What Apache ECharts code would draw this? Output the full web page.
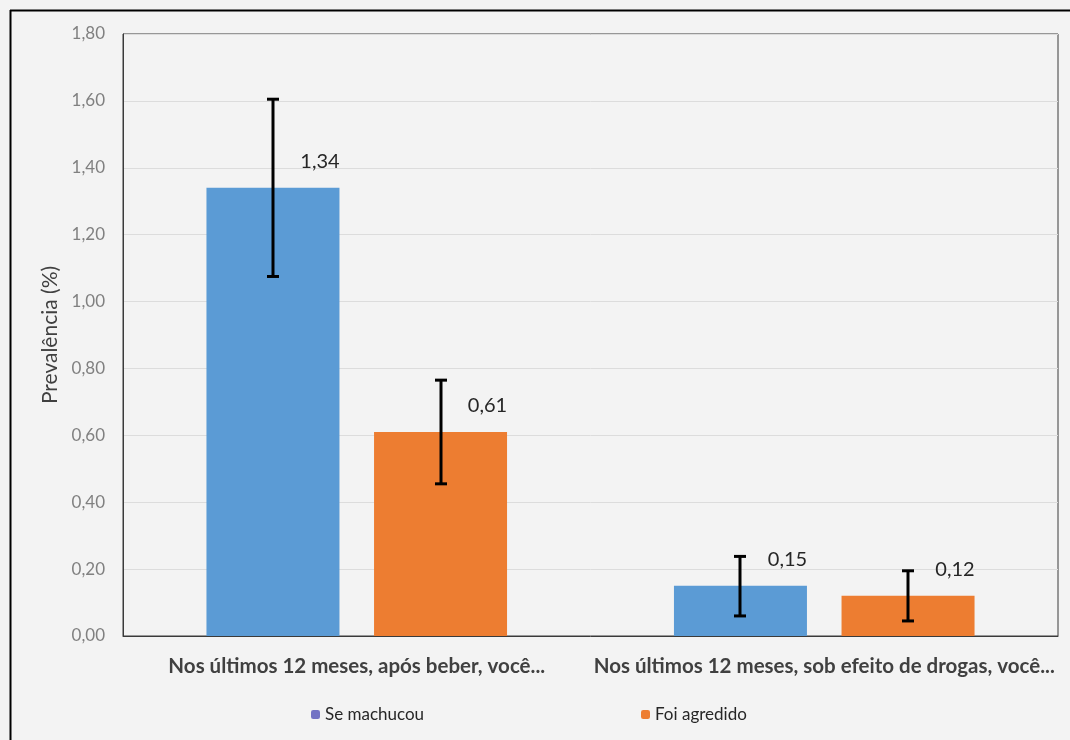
<!DOCTYPE html>
<html>
<head>
<meta charset="utf-8">
<script src="https://cdn.jsdelivr.net/npm/echarts@6/dist/echarts.min.js"></script>
<style>
html,body{margin:0;padding:0;background:#f3f3f3;}
#chart{width:1070px;height:740px;}
</style>
</head>
<body>
<div id="chart"></div>
<script>
const categories = ['Nos últimos 12 meses, após beber, você...', 'Nos últimos 12 meses, sob efeito de drogas, você...'];
const seriesNames = ['Se machucou', 'Foi agredido'];
const seMachucou = [1.34, 0.15];
const foiAgredido = [0.61, 0.12];
const seMachucouLow = [1.075, 0.06];
const seMachucouHigh = [1.605, 0.238];
const foiAgredidoLow = [0.455, 0.045];
const foiAgredidoHigh = [0.765, 0.195];
const yTicks = [0, 0.2, 0.4, 0.6, 0.8, 1.0, 1.2, 1.4, 1.6, 1.8];

const FONT = 'Lato';
const chart = echarts.init(document.getElementById('chart'));

function errSeries(low, high, side) {
  const data = low.map((l, i) => [i, l, high[i]]);
  return {
    type: 'custom',
    z: 10,
    silent: true,
    renderItem: function (params, api) {
      const ci = api.value(0);
      const lo = api.coord([ci, api.value(1)]);
      const hi = api.coord([ci, api.value(2)]);
      const barW = 133, gap = 35;
      const x = Math.round(lo[0] + (side === 0 ? -(barW + gap) / 2 : (barW + gap) / 2));
      const cap = 6;
      const st = { stroke: '#000', lineWidth: 3 };
      return {
        type: 'group',
        children: [
          { type: 'line', shape: { x1: x, y1: lo[1], x2: x, y2: hi[1] }, style: st },
          { type: 'line', shape: { x1: x - cap, y1: lo[1], x2: x + cap, y2: lo[1] }, style: st },
          { type: 'line', shape: { x1: x - cap, y1: hi[1], x2: x + cap, y2: hi[1] }, style: st }
        ]
      };
    },
    data: data
  };
}

const labelCfg = {
  show: true,
  position: 'top',
  offset: [47, -11],
  color: '#262626',
  fontSize: 20,
  fontFamily: FONT,
  formatter: p => p.value.toFixed(2).replace('.', ',')
};

chart.setOption({
  backgroundColor: '#f3f3f3',
  animation: false,
  textStyle: { fontFamily: FONT },
  grid: { left: 123, right: 12, top: 34, bottom: 104, show: true, borderColor: '#3a3a3a', borderWidth: 1, backgroundColor: 'transparent' },
  legend: [
    { left: 306, top: 701, itemWidth: 9, itemHeight: 9, itemGap: 6, data: [{ name: seriesNames[0], itemStyle: { color: '#7373c4' } }], textStyle: { color: '#262626', fontSize: 17, fontFamily: FONT } },
    { left: 636, top: 701, itemWidth: 9, itemHeight: 9, itemGap: 6, data: [{ name: seriesNames[1] }], textStyle: { color: '#262626', fontSize: 17, fontFamily: FONT } }
  ],
  xAxis: {
    type: 'category',
    data: categories,
    axisLine: { lineStyle: { color: '#3a3a3a' } },
    axisTick: { show: false },
    axisLabel: { color: '#404040', fontSize: 20.5, fontWeight: 'bold', fontFamily: FONT, margin: 20, interval: 0 }
  },
  yAxis: {
    type: 'value',
    min: 0, max: 1.8, interval: 0.2,
    name: 'Prevalência (%)',
    nameLocation: 'middle',
    nameGap: 58,
    nameTextStyle: { color: '#404040', fontSize: 21, fontFamily: FONT },
    axisLine: { show: true, lineStyle: { color: '#3a3a3a' } },
    axisLabel: { color: '#808080', fontSize: 17, fontFamily: FONT, margin: 18, formatter: v => v.toFixed(2).replace('.', ',') },
    splitLine: { lineStyle: { color: '#dcdcdc' } }
  },
  graphic: [
    { type: 'line', shape: { x1: 10, y1: 10.5, x2: 1070, y2: 10.5 }, style: { stroke: '#000', lineWidth: 2 } },
    { type: 'line', shape: { x1: 10.5, y1: 10, x2: 10.5, y2: 740 }, style: { stroke: '#000', lineWidth: 2 } }
  ],
  series: [
    { name: seriesNames[0], type: 'bar', data: seMachucou, barWidth: 133, barGap: '26%', itemStyle: { color: '#5b9bd5' }, label: labelCfg },
    { name: seriesNames[1], type: 'bar', data: foiAgredido, barWidth: 133, barGap: '26%', itemStyle: { color: '#ed7d31' }, label: labelCfg },
    errSeries(seMachucouLow, seMachucouHigh, 0),
    errSeries(foiAgredidoLow, foiAgredidoHigh, 1)
  ]
});
</script>
</body>
</html>
